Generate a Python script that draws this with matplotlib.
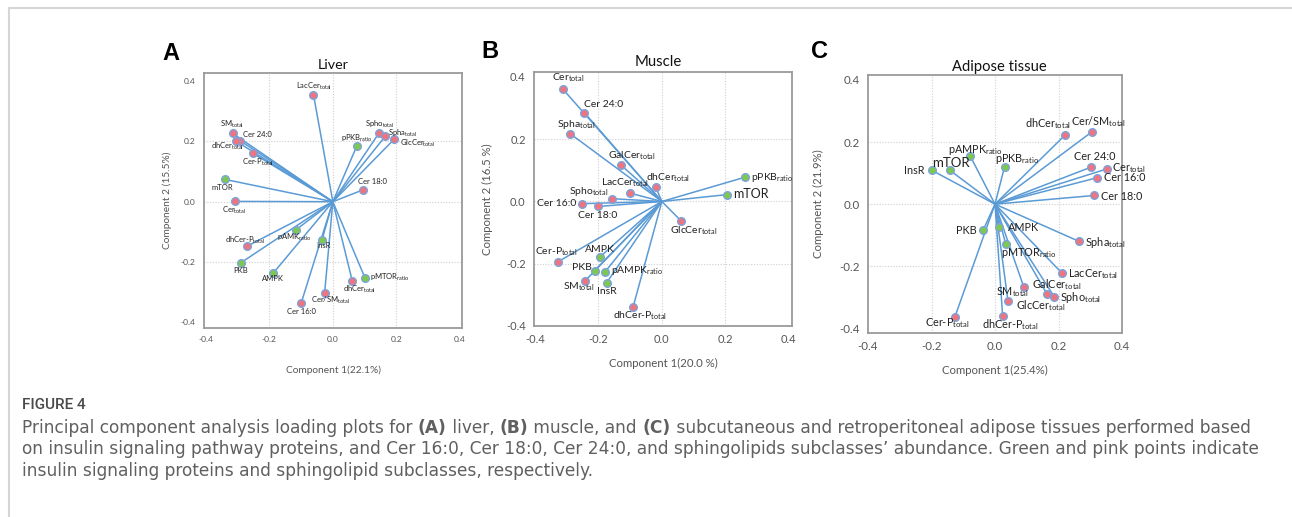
import numpy as np
import matplotlib
matplotlib.use("Agg")
import matplotlib.pyplot as plt
from matplotlib.lines import Line2D

plt.rcParams['font.family'] = ['Lato', 'DejaVu Sans']
plt.rcParams['mathtext.fontset'] = 'custom'
plt.rcParams['mathtext.rm'] = 'Lato'
plt.rcParams['mathtext.it'] = 'Lato:italic'
plt.rcParams['mathtext.bf'] = 'Lato:bold'

W, H = 1292, 517

# ---- data: loadings ----
# 'p' = insulin signalling protein (green), 's' = sphingolipid (pink)
liver_names = ["LacCer_total", "SM_total", "Cer 24:0", "dhCer_total", "Cer-P_total",
               "mTOR", "Cer_total", "dhCer-P_total", "pAMK_ratio", "InsR", "PKB",
               "AMPK", "Cer 16:0", "Cer/SM_total", "dhCer_total ", "pMTOR_ratio",
               "Cer 18:0", "pPKB_ratio", "Spho_total", "Spha_total", "GlcCer_total"]
liver_x = [-0.061, -0.316, -0.293, -0.305, -0.251, -0.340, -0.309, -0.271, -0.116, -0.034,
           -0.289, -0.187, -0.100, -0.026, 0.061, 0.101, 0.094, 0.076, 0.145, 0.165, 0.193]
liver_y = [0.355, 0.227, 0.203, 0.201, 0.160, 0.074, 0.001, -0.148, -0.093, -0.126,
           -0.202, -0.236, -0.337, -0.304, -0.262, -0.252, 0.039, 0.186, 0.227, 0.217, 0.207]
liver_kind = ["s", "s", "s", "s", "s", "p", "s", "s", "p", "p", "p",
              "p", "s", "s", "s", "p", "s", "p", "s", "s", "s"]

muscle_names = ["Cer_total", "Cer 24:0", "Spha_total", "GalCer_total", "dhCer_total",
                "LacCer_total", "Spho_total", "Cer 16:0", "Cer 18:0", "GlcCer_total",
                "pPKB_ratio", "mTOR", "Cer-P_total", "AMPK", "PKB", "pAMPK_ratio",
                "SM_total", "InsR", "dhCer-P_total"]
muscle_x = [-0.312, -0.244, -0.288, -0.129, -0.019, -0.101, -0.157, -0.253, -0.201, 0.061,
            0.262, 0.204, -0.328, -0.196, -0.212, -0.180, -0.243, -0.174, -0.091]
muscle_y = [0.361, 0.285, 0.217, 0.117, 0.045, 0.027, 0.009, -0.007, -0.016, -0.063,
            0.078, 0.022, -0.194, -0.179, -0.222, -0.227, -0.256, -0.261, -0.340]
muscle_kind = ["s", "s", "s", "s", "s", "s", "s", "s", "s", "s",
               "p", "p", "s", "p", "p", "p", "s", "p", "s"]

adipose_names = ["dhCer_total", "Cer/SM_total", "Cer 24:0", "Cer_total", "Cer 16:0",
                 "Cer 18:0", "Spha_total", "LacCer_total", "GalCer_total", "Spho_total",
                 "SM_total", "GlcCer_total", "dhCer-P_total", "Cer-P_total", "PKB",
                 "AMPK", "pMTOR_ratio", "InsR", "mTOR", "pAMPK_ratio", "pPKB_ratio"]
adipose_x = [0.221, 0.304, 0.302, 0.354, 0.321, 0.313, 0.265, 0.212, 0.164, 0.187,
             0.091, 0.041, 0.024, -0.127, -0.037, 0.014, 0.034, -0.199, -0.142, -0.078, 0.030]
adipose_y = [0.223, 0.232, 0.119, 0.114, 0.085, 0.028, -0.120, -0.223, -0.290, -0.299,
             -0.268, -0.313, -0.359, -0.365, -0.083, -0.074, -0.129, 0.109, 0.109, 0.155, 0.120]
adipose_kind = ["s", "s", "s", "s", "s", "s", "s", "s", "s", "s",
                "s", "s", "s", "s", "p", "p", "p", "p", "p", "p", "p"]

titles = ["Liver", "Muscle", "Adipose tissue"]
letters = ["A", "B", "C"]
xlabels = ["Component 1(22.1%)", "Component 1(20.0 %)", "Component 1(25.4%)"]
ylabels = ["Component 2 (15.5%)", "Component 2 (16.5 %)", "Component 2 (21.9%)"]
ticks = [-0.4, -0.2, 0.0, 0.2, 0.4]

# label placement (pixel offset from point, horizontal alignment)
liver_lab = {
    "LacCer_total": (0, 8, "center"), "SM_total": (-1, 9, "center"),
    "Cer 24:0": (3, 6, "left"), "dhCer_total": (-9, -5, "center"),
    "Cer-P_total": (5, -9, "center"), "mTOR": (-3, -8, "center"),
    "Cer_total": (-1, -9, "center"), "dhCer-P_total": (-2, 6, "center"),
    "pAMK_ratio": (-2, -8, "center"), "InsR": (1, -6, "center"),
    "PKB": (-1, -8, "center"), "AMPK": (-1, -6, "center"),
    "Cer 16:0": (0, -8, "center"), "Cer/SM_total": (6, -7, "center"),
    "dhCer_total ": (7, -9, "center"), "pMTOR_ratio": (5, 0, "left"),
    "Cer 18:0": (10, 8, "center"), "pPKB_ratio": (0, 7, "center"),
    "Spho_total": (1, 9, "center"), "Spha_total": (3, 3, "left"),
    "GlcCer_total": (6, -4, "left"),
}
muscle_lab = {
    "Cer_total": (5, 11, "center"), "Cer 24:0": (0, 8, "left"),
    "Spha_total": (6, 9, "center"), "GalCer_total": (11, 9, "center"),
    "dhCer_total": (12, 10, "center"), "LacCer_total": (-5, 10, "center"),
    "Spho_total": (-4, 7, "right"), "Cer 16:0": (-5, 0, "right"),
    "Cer 18:0": (0, -9, "center"), "GlcCer_total": (12, -10, "center"),
    "pPKB_ratio": (6, 0, "left"), "mTOR": (6, 1, "left"),
    "Cer-P_total": (-2, 10, "center"), "AMPK": (0, 8, "center"),
    "PKB": (-3, 3, "right"), "pAMPK_ratio": (6, 2, "left"),
    "SM_total": (-6, -6, "center"), "InsR": (0, -9, "center"),
    "dhCer-P_total": (7, -8, "center"),
}
adipose_lab = {
    "dhCer_total": (-17, 11, "center"), "Cer/SM_total": (7, 11, "center"),
    "Cer 24:0": (4, 11, "center"), "Cer_total": (5, 1, "left"),
    "Cer 16:0": (7, 0, "left"), "Cer 18:0": (7, -1, "left"),
    "Spha_total": (6, -1, "left"), "LacCer_total": (6, -1, "left"),
    "GalCer_total": (10, 10, "center"), "Spho_total": (6, -1, "left"),
    "SM_total": (-11, -5, "center"), "GlcCer_total": (8, -4, "left"),
    "dhCer-P_total": (8, -9, "center"), "Cer-P_total": (-7, -6, "center"),
    "PKB": (-7, -1, "right"), "AMPK": (9, 0, "left"),
    "pMTOR_ratio": (23, -9, "center"), "InsR": (-7, 0, "right"),
    "mTOR": (1, 7, "center"), "pAMPK_ratio": (5, 6, "center"),
    "pPKB_ratio": (13, 8, "center"),
}

PINK = "#ee7480"
GREEN = "#7ec850"
EDGE = "#7ba3dc"
LINE = "#5b9bd5"
GREY = "#555555"


def fig_box(l, t, r, b):
    return [l / W, 1 - b / H, (r - l) / W, (b - t) / H]


def pretty(name):
    name = name.strip()
    if "_" in name:
        base, sub = name.split("_")
        return base + r"$_{\mathrm{" + sub + "}}$"
    return name


def loading_plot(ax, names, xs, ys, kinds, labpos, fs, big, tfs, lims):
    ax.set_xlim(lims[0], lims[1])
    ax.set_ylim(lims[2], lims[3])
    for v in [-0.2, 0.0, 0.2]:
        ax.axvline(v, color="#cfcfcf", lw=0.8, ls=(0, (1, 1.5)), zorder=0)
        ax.axhline(v, color="#cfcfcf", lw=0.8, ls=(0, (1, 1.5)), zorder=0)
    for n, x, y, k in zip(names, xs, ys, kinds):
        ax.plot([0, x], [0, y], color=LINE, lw=1.1, zorder=2)
    for n, x, y, k in zip(names, xs, ys, kinds):
        ax.plot(x, y, "o", ms=5.5, mfc=PINK if k == "s" else GREEN,
                mec=EDGE, mew=1.0, zorder=3)
        dx, dy, ha = labpos[n]
        size = big if n.strip() == "mTOR" else fs
        ax.annotate(pretty(n), (x, y), xytext=(dx, dy), textcoords="offset pixels",
                    ha=ha, va="center", fontsize=size, color="#222222", zorder=4)
    ax.set_xticks(ticks)
    ax.set_yticks(ticks)
    ax.set_xticklabels(["%.1f" % t for t in ticks])
    ax.set_yticklabels(["%.1f" % t for t in ticks])
    ax.tick_params(length=0, colors=GREY, labelsize=tfs, pad=6)
    for s in ax.spines.values():
        s.set_color("#9a9a9a")
        s.set_linewidth(1.3)


fig = plt.figure(figsize=(W / 100, H / 100), dpi=100)

# page frame
fig.add_artist(Line2D([9 / W, 1], [1 - 8 / H, 1 - 8 / H], color="#d6d6d6", lw=1.5))
fig.add_artist(Line2D([9 / W, 9 / W], [0, 1 - 8 / H], color="#d6d6d6", lw=1.5))

boxes = [(204, 73, 462, 328), (534, 72, 792, 326), (868, 75, 1122, 333)]
limits = [(-0.406, 0.407, -0.419, 0.427), (-0.403, 0.41, -0.398, 0.416),
          (-0.398, 0.392, -0.415, 0.416)]
panels = [(liver_names, liver_x, liver_y, liver_kind, liver_lab, 5.5, 5.5, 6),
          (muscle_names, muscle_x, muscle_y, muscle_kind, muscle_lab, 7.5, 9, 8),
          (adipose_names, adipose_x, adipose_y, adipose_kind, adipose_lab, 7.8, 9.5, 8.3)]
title_pos = [(333, 65), (658, 62), (999, 67)]
letter_pos = [(171, 53), (490, 52), (820, 52)]
xlab_y = [370, 363, 370]
ylab_x = [167, 487, 818]
title_fs = [10.3, 10.7, 10.6]
axlab_fs = [7.3, 8.2, 8.2]

for i in range(3):
    ax = fig.add_axes(fig_box(*boxes[i]))
    names, xs, ys, kinds, lab, fs, big, tfs = panels[i]
    loading_plot(ax, names, xs, ys, kinds, lab, fs, big, tfs, limits[i])
    l, t, r, b = boxes[i]
    fig.text(title_pos[i][0] / W, 1 - title_pos[i][1] / H, titles[i], ha="center",
             va="center", fontsize=title_fs[i], color="#111111")
    fig.text(letter_pos[i][0] / W, 1 - letter_pos[i][1] / H, letters[i], ha="center",
             va="center", fontsize=17, fontweight="bold", color="black",
             family="Liberation Sans")
    fig.text((l + r) / 2 / W, 1 - xlab_y[i] / H, xlabels[i], ha="center", va="center",
             fontsize=axlab_fs[i], color=GREY)
    fig.text(ylab_x[i] / W, 1 - (t + b) / 2 / H, ylabels[i], ha="center", va="center",
             rotation=90, fontsize=axlab_fs[i], color=GREY)

# caption
fig.text(22 / W, 1 - 405 / H, "FIGURE 4", ha="left", va="center", fontsize=11,
         color="#4a4a4a", family="Roboto", fontweight="medium")

cap_lines = [
    [("Principal component analysis loading plots for ", "normal"), ("(A)", "bold"),
     (" liver, ", "normal"), ("(B)", "bold"), (" muscle, and ", "normal"), ("(C)", "bold"),
     (" subcutaneous and retroperitoneal adipose tissues performed based", "normal")],
    [("on insulin signaling pathway proteins, and Cer 16:0, Cer 18:0, Cer 24:0, and "
      "sphingolipids subclasses\u2019 abundance. Green and pink points indicate", "normal")],
    [("insulin signaling proteins and sphingolipid subclasses, respectively.", "normal")],
]
cap_y = [428, 449, 471]
cap_font = "DejaVu Sans"
renderer = fig.canvas.get_renderer()

# fit caption size so the second line spans about the same width as in the figure
probe = fig.text(0, 0, cap_lines[1][0][0], fontsize=10, family=cap_font)
cap_fs = 10 * 1240 / probe.get_window_extent(renderer).width
probe.remove()

for line, yy in zip(cap_lines, cap_y):
    xpix = 22
    for txt, wt in line:
        t = fig.text(xpix / W, 1 - yy / H, txt, ha="left", va="center", fontsize=cap_fs,
                     color="#606060", family=cap_font, fontweight=wt)
        bb = t.get_window_extent(renderer)
        xpix += bb.width

fig.savefig("out.png", dpi=100)
